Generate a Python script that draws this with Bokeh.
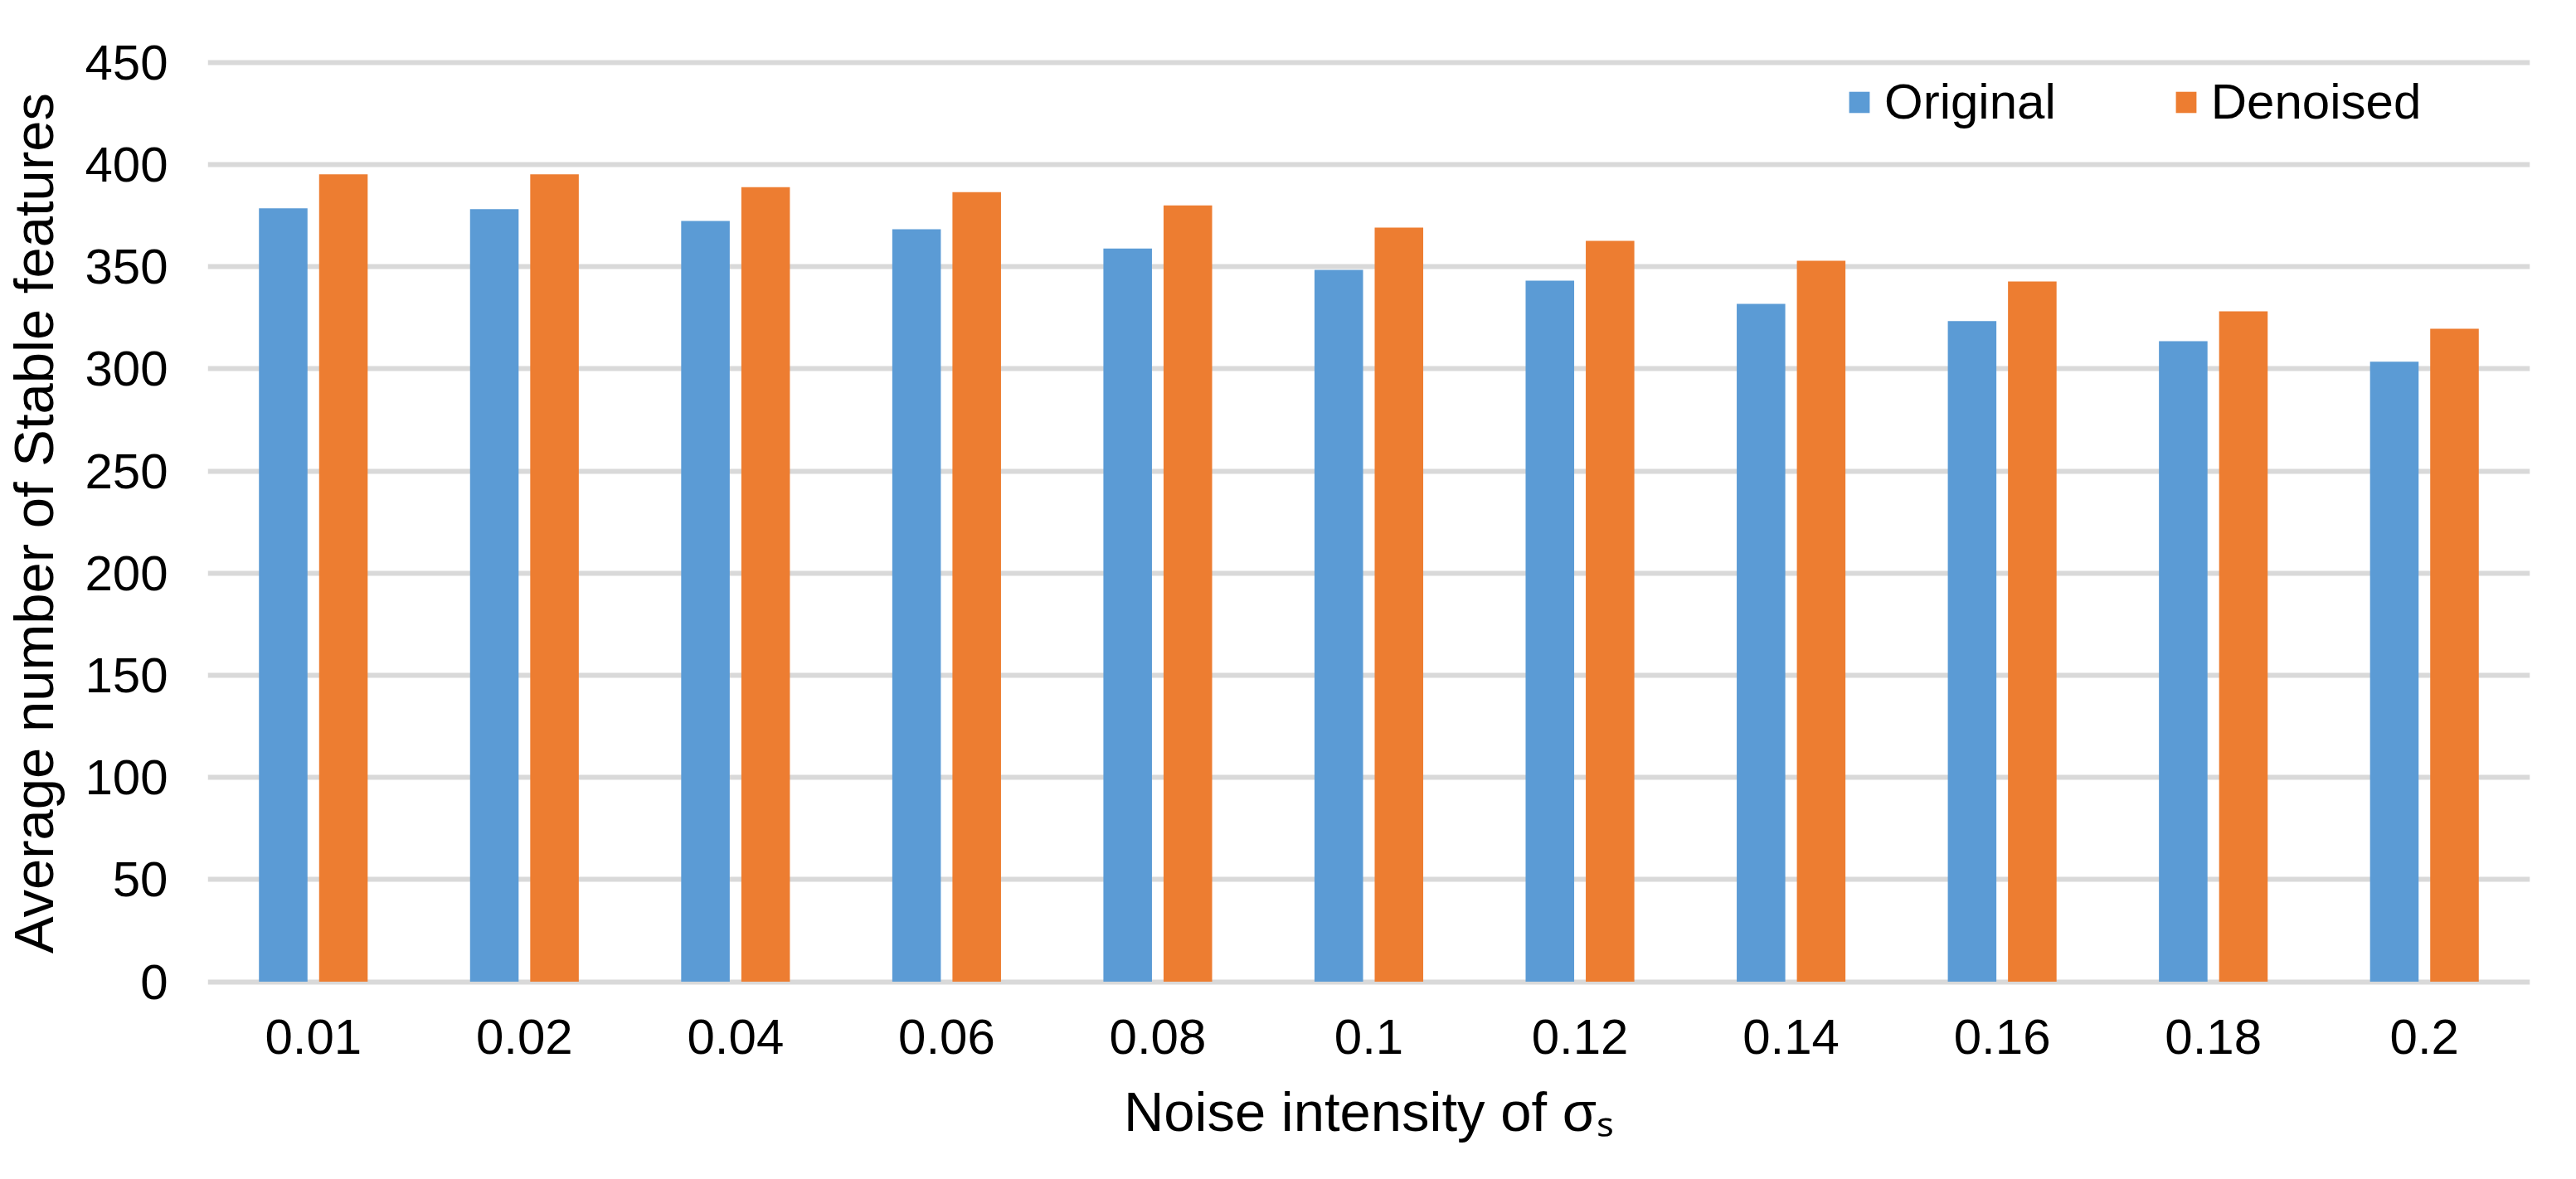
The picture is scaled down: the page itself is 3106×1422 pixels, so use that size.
from bokeh.plotting import figure
from bokeh.models import (ColumnDataSource, FactorRange, Range1d, FixedTicker,
                          Legend, LegendItem)
from bokeh.transform import dodge
from bokeh.embed import file_html
from bokeh.resources import INLINE

categories = ["0.01", "0.02", "0.04", "0.06", "0.08", "0.1", "0.12", "0.14", "0.16", "0.18", "0.2"]
original = [378.6, 378.2, 372.4, 368.4, 359.0, 348.5, 343.2, 331.9, 323.4, 313.6, 303.5]
denoised = [395.3, 395.3, 389.0, 386.6, 380.1, 369.2, 362.7, 353.0, 342.8, 328.2, 319.7]
y_ticks = [0, 50, 100, 150, 200, 250, 300, 350, 400, 450]
series_names = ["Original", "Denoised"]
x_title = "Noise intensity of σₛ"
y_title = "Average number of Stable features"

FONT = "Liberation Sans"
BLUE = "#5B9BD5"
ORANGE = "#ED7D31"
GRID = "#D9D9D9"

W, H = 3090, 1406

source = ColumnDataSource(data=dict(cat=categories, original=original, denoised=denoised))

p = figure(width=W, height=H, x_range=FactorRange(*categories, range_padding=0),
           y_range=Range1d(-3, 452), output_backend="svg", toolbar_location=None,
           min_border_left=247, min_border_right=40, min_border_top=70, min_border_bottom=215)
p.outline_line_color = None
p.background_fill_color = "white"
p.border_fill_color = "white"

r1 = p.vbar(x=dodge("cat", -0.1425, range=p.x_range), top="original", bottom=0, width=0.23,
            source=source, fill_color=BLUE, line_color=None)
r2 = p.vbar(x=dodge("cat", 0.1425, range=p.x_range), top="denoised", bottom=0, width=0.23,
            source=source, fill_color=ORANGE, line_color=None)

p.xgrid.grid_line_color = None
p.ygrid.grid_line_color = GRID
p.ygrid.grid_line_width = 6
p.yaxis.ticker = FixedTicker(ticks=y_ticks)

for ax in (p.xaxis[0], p.yaxis[0]):
    ax.axis_line_color = None
    ax.major_tick_line_color = None
    ax.minor_tick_line_color = None
    ax.major_tick_out = 0
    ax.major_tick_in = 0
    ax.minor_tick_out = 0
    ax.major_label_text_font = FONT
    ax.major_label_text_font_size = "60px"
    ax.major_label_text_color = "black"
    ax.axis_label_text_font = FONT
    ax.axis_label_text_font_size = "67px"
    ax.axis_label_text_font_style = "normal"
    ax.axis_label_text_color = "black"
p.yaxis.major_label_standoff = 48
p.xaxis.major_label_standoff = 38

p.yaxis.axis_label = y_title
p.yaxis.axis_label_standoff = 21
p.xaxis.axis_label = x_title
p.xaxis.axis_label_standoff = 29

legend = Legend(items=[LegendItem(label=series_names[0], renderers=[r1]),
                       LegendItem(label=series_names[1], renderers=[r2])],
                orientation="horizontal", location=(1976, 1034),
                label_text_font=FONT, label_text_font_size="60px", label_text_color="black",
                glyph_width=31, glyph_height=32, label_standoff=15, spacing=141,
                padding=0, margin=0, border_line_color=None, background_fill_alpha=0)
p.add_layout(legend, "center")

open("out.html", "w").write(file_html(p, INLINE))
